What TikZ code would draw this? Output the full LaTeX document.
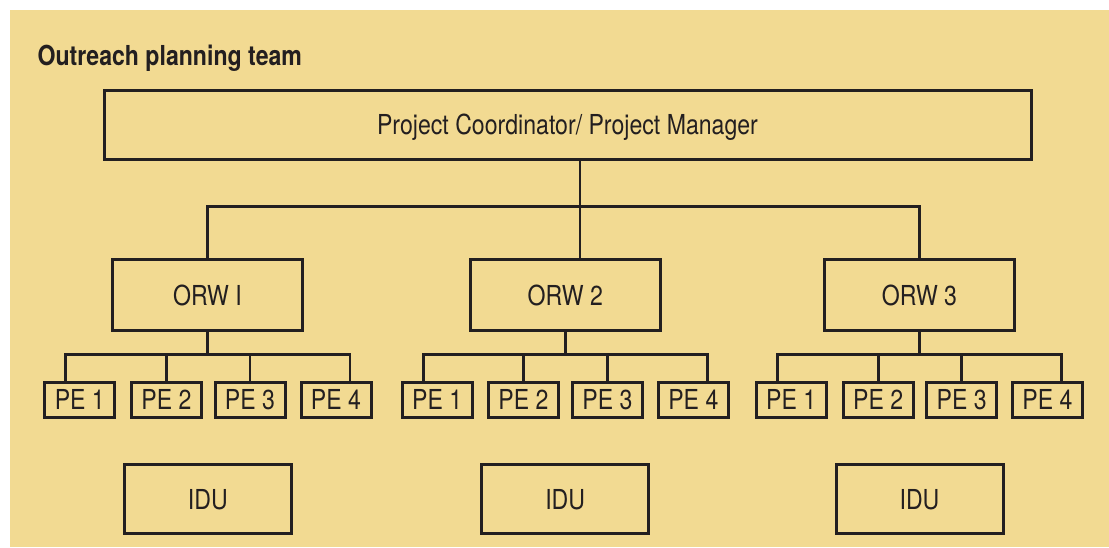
\documentclass[tikz,border=0pt]{standalone}
\usepackage{fontspec}
\setmainfont{TeX Gyre Heros}[FakeStretch=0.84]
\definecolor{panel}{RGB}{242,218,146}
\definecolor{ink}{RGB}{35,31,32}
\begin{document}
\begin{tikzpicture}[x=1pt,y=-1pt,
  every node/.style={text=ink,font=\fontsize{27.5}{30}\selectfont},
  unit/.style={draw=ink,line width=3pt,inner sep=0pt,text height=19.8pt,text depth=0pt,align=center},
  lead/.style={unit,minimum width=927pt,minimum height=69.5pt},
  worker/.style={unit,minimum width=190.5pt,minimum height=71pt},
  peer/.style={unit,minimum width=70pt,minimum height=35pt},
  idu/.style={unit,minimum width=167pt,minimum height=69pt},
  wire/.style={draw=ink,line width=2.9pt}]
% canvas
\useasboundingbox (0,0) rectangle (1109,547);
\fill[panel] (10,10) rectangle (1109,547);
% heading
\node[anchor=base west,font=\fontsize{27.5}{30}\selectfont\bfseries] (title) at (34,65.5) {Outreach planning team};
% coordinator
\node[lead] (pc) at (567.5,125) {Project Coordinator/ Project Manager};
% outreach workers
\node[worker] (orw1) at (207.5,295.2) {ORW I};
\node[worker] (orw2) at (565.3,295.2) {ORW 2};
\node[worker] (orw3) at (919.5,295.2) {ORW 3};
% peer educators
\node[peer] (p11) at (79.8,399.7) {PE 1};
\node[peer] (p12) at (166.5,399.7) {PE 2};
\node[peer] (p13) at (250,399.7) {PE 3};
\node[peer] (p14) at (336,399.7) {PE 4};
\node[peer] (p21) at (437.2,399.7) {PE 1};
\node[peer] (p22) at (523.5,399.7) {PE 2};
\node[peer] (p23) at (607.5,399.7) {PE 3};
\node[peer] (p24) at (693.3,399.7) {PE 4};
\node[peer] (p31) at (791.2,399.7) {PE 1};
\node[peer] (p32) at (878.2,399.7) {PE 2};
\node[peer] (p33) at (961.7,399.7) {PE 3};
\node[peer] (p34) at (1047.5,399.7) {PE 4};
% injecting drug users
\node[idu] (idu1) at (207.8,499.3) {IDU};
\node[idu] (idu2) at (565.2,499.3) {IDU};
\node[idu] (idu3) at (919.5,499.3) {IDU};
% top-level bus
\coordinate (top) at (580,206.3);
\draw[wire] (pc.south -| top) -- (top);
\draw[wire] (orw1.north) |- (top) -| (orw3.north);
\draw[wire] (top) -- (top |- orw2.north);
% team buses
\coordinate (g1) at (207.5,354.3);
\coordinate (g2) at (565.3,354.3);
\coordinate (g3) at (919.5,354.3);
\foreach \g in {1,2,3}{
  \draw[wire] (orw\g.south) -- (g\g);
  \draw[wire] ([xshift=-14pt]p\g1.north) |- (g\g) -| ([xshift=14pt]p\g4.north);
  \draw[wire] (p\g2.north) -- (p\g2.north |- g\g);
  \draw[wire] (p\g3.north) -- (p\g3.north |- g\g);
}
\end{tikzpicture}
\end{document}
